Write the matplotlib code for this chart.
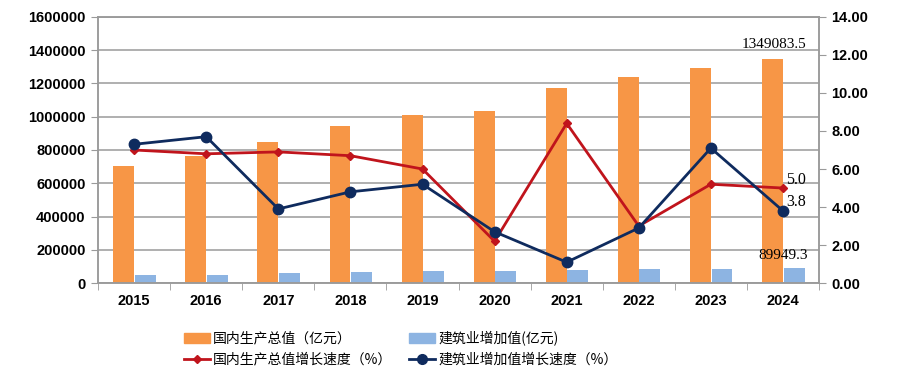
import matplotlib
matplotlib.use("Agg")
import matplotlib.pyplot as plt
import numpy as np
from matplotlib.lines import Line2D
from matplotlib.patches import Patch

plt.rcParams['font.family'] = ['Liberation Sans', 'Noto Sans CJK SC', 'DejaVu Sans']

years = ["2015", "2016", "2017", "2018", "2019", "2020", "2021", "2022", "2023", "2024"]
gdp = [704000, 764000, 850000, 942000, 1010000, 1037000, 1174000, 1238000, 1294000, 1349083.5]
construction = [47761, 51499, 57906, 65493, 70648, 72996, 78741, 83383, 85691, 89949.3]
gdp_growth = [7.0, 6.8, 6.9, 6.7, 6.0, 2.2, 8.4, 3.0, 5.2, 5.0]
cons_growth = [7.3, 7.7, 3.9, 4.8, 5.2, 2.7, 1.1, 2.9, 7.1, 3.8]

C_ORANGE, C_BLUE, C_RED, C_NAVY = "#F79646", "#8DB4E2", "#C0141C", "#0F2B5E"
GRID = "#9a9a9a"

fig = plt.figure(figsize=(9, 3.75), dpi=100)
ax = fig.add_axes([0.109, 0.245, 0.801, 0.71])
ax2 = ax.twinx()

x = np.arange(len(years))
w = 0.29
ax.bar(x - w / 2, gdp, w, color=C_ORANGE, zorder=2)
ax.bar(x + w / 2 + 0.01, construction, w, color=C_BLUE, zorder=2)
ax.set_xlim(-0.5, len(years) - 0.5)
ax.set_ylim(0, 1600000)
ax.set_yticks(np.arange(0, 1600001, 200000))
ax.set_yticklabels([str(v) for v in range(0, 1600001, 200000)])
ax.yaxis.grid(True, color=GRID, lw=1.1, zorder=0)
ax.set_axisbelow(True)
ax.set_xticks(x)
ax.set_xticklabels(years)
ax.set_xticks(np.arange(-0.5, len(years)), minor=True)
ax.tick_params(axis="x", which="major", length=0, pad=8)
ax.tick_params(axis="x", which="minor", length=5, color=GRID)
ax.tick_params(axis="y", length=5, color=GRID, pad=4)
for lab in ax.get_xticklabels() + ax.get_yticklabels():
    lab.set_fontweight("bold"); lab.set_fontsize(10.5)

ax2.plot(x, gdp_growth, color=C_RED, lw=2, marker="D", ms=4.5, zorder=4)
ax2.plot(x, cons_growth, color=C_NAVY, lw=2, marker="o", ms=7.5, zorder=5)
ax2.set_ylim(0, 14)
ax2.set_yticks(np.arange(0, 14.1, 2))
ax2.set_yticklabels([f"{v:.2f}" for v in np.arange(0, 14.1, 2)])
ax2.tick_params(axis="y", length=5, color=GRID, pad=4)
for lab in ax2.get_yticklabels():
    lab.set_fontweight("bold"); lab.set_fontsize(10.5)

for a in (ax, ax2):
    for s in ("top", "left", "right", "bottom"):
        a.spines[s].set_color(GRID)
        a.spines[s].set_linewidth(1.1)

# annotations
last = len(years) - 1
serif = "Liberation Serif"
ax.text(last - 0.13, gdp[last] + 45000, "1349083.5", ha="center", va="bottom",
        fontsize=11, family=serif)
ax.text(last, 168000, "89949.3", ha="center", va="center", fontsize=11, family=serif)
ax2.text(last + 0.05, gdp_growth[last] + 0.4, "5.0", ha="left", va="center",
         fontsize=11.5, family=serif)
ax2.text(last + 0.05, cons_growth[last] + 0.45, "3.8", ha="left", va="center",
         fontsize=11.5, family=serif)

handles = [
    Patch(color=C_ORANGE),
    Line2D([], [], color=C_RED, lw=2, marker="D", ms=4.5),
    Patch(color=C_BLUE),
    Line2D([], [], color=C_NAVY, lw=2, marker="o", ms=7),
]
labels = ["国内生产总值（亿元）", "国内生产总值增长速度（%）", "建筑业增加值(亿元)", "建筑业增加值增长速度（%）"]
fig.legend(handles, labels, ncol=2, loc="lower left", bbox_to_anchor=(0.195, 0.0),
           frameon=False, prop={"family": ["Noto Sans CJK SC", "DejaVu Sans"], "size": 10},
           handlelength=1.9, handletextpad=0.2, columnspacing=1.2, labelspacing=0.5,
           borderaxespad=0.2)

fig.savefig("out.png", dpi=100)
